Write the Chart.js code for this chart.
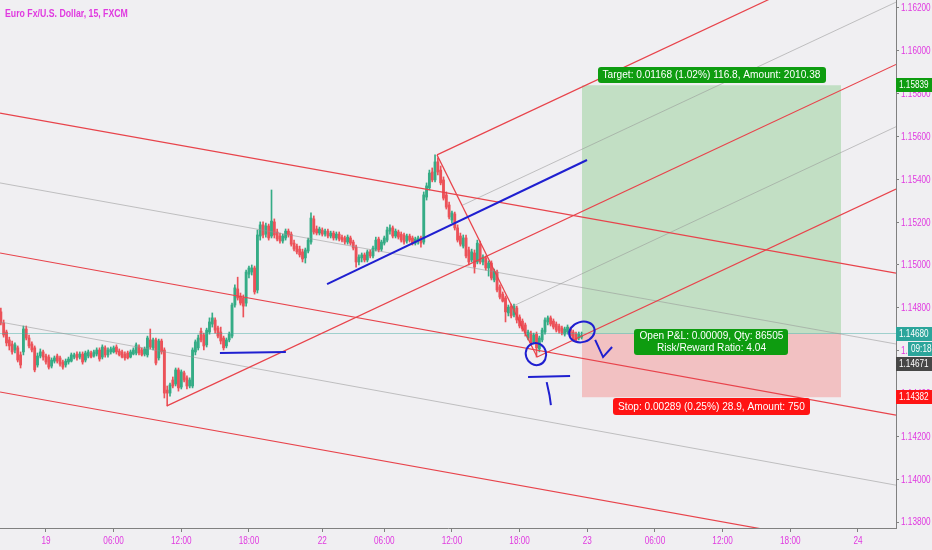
<!DOCTYPE html>
<html>
<head>
<meta charset="utf-8">
<script src="https://cdn.jsdelivr.net/npm/chart.js@4.4.0/dist/chart.umd.min.js"></script>
<style>
  html, body { margin: 0; padding: 0; background: #f0eff2; }
  #wrap { width: 932px; height: 550px; }
</style>
</head>
<body>
<div id="wrap"><canvas id="chart"></canvas></div>
<script>
const FONT = '"Liberation Sans", Arial, sans-serif';
const MAGENTA = "#e03ae0";
const BG = "#f0eff2";
const SQUEEZE = 0.78; // the screenshot text is narrow

// 15 min bars; bar 0 sits on the "19" label
const firstBar = -16;

const opens = [
  1.14781, 1.14729, 1.14687, 1.14650, 1.14631, 1.14603, 1.14613, 1.14580, 1.14594, 1.14701,
  1.14659, 1.14631, 1.14613, 1.14533, 1.14575, 1.14594, 1.14575, 1.14570, 1.14528, 1.14551,
  1.14575, 1.14566, 1.14547, 1.14533, 1.14547, 1.14551, 1.14570, 1.14584, 1.14570, 1.14584,
  1.14556, 1.14575, 1.14589, 1.14575, 1.14584, 1.14603, 1.14570, 1.14613, 1.14580, 1.14594,
  1.14594, 1.14617, 1.14598, 1.14594, 1.14584, 1.14589, 1.14570, 1.14584, 1.14589, 1.14617,
  1.14603, 1.14584, 1.14580, 1.14650, 1.14613, 1.14650, 1.14566, 1.14645, 1.14603, 1.14416,
  1.14402, 1.14463, 1.14444, 1.14510, 1.14430, 1.14496, 1.14473, 1.14435, 1.14435, 1.14594,
  1.14613, 1.14691, 1.14673, 1.14627, 1.14687, 1.14724, 1.14743, 1.14706, 1.14687, 1.14659,
  1.14622, 1.14650, 1.14668, 1.14813, 1.14888, 1.14855, 1.14846, 1.14822, 1.14957, 1.14967,
  1.14986, 1.14883, 1.15135, 1.15187, 1.15144, 1.15182, 1.15135, 1.15201, 1.15154, 1.15135,
  1.15112, 1.15126, 1.15158, 1.15144, 1.15102, 1.15088, 1.15074, 1.15061, 1.15033, 1.15065,
  1.15107, 1.15215, 1.15168, 1.15149, 1.15163, 1.15144, 1.15158, 1.15135, 1.15149, 1.15126,
  1.15144, 1.15130, 1.15126, 1.15107, 1.15126, 1.15107, 1.15083, 1.15014, 1.15033, 1.15047,
  1.15023, 1.15061, 1.15042, 1.15074, 1.15121, 1.15074, 1.15102, 1.15116, 1.15158, 1.15173,
  1.15135, 1.15154, 1.15144, 1.15140, 1.15112, 1.15135, 1.15126, 1.15102, 1.15112, 1.15126,
  1.15107, 1.15317, 1.15360, 1.15434, 1.15397, 1.15481, 1.15443, 1.15397, 1.15327, 1.15280,
  1.15210, 1.15238, 1.15173, 1.15135, 1.15088, 1.15126, 1.15070, 1.15023, 1.15056, 1.15014,
  1.15097, 1.15014, 1.15033, 1.14986, 1.15009, 1.14930, 1.14967, 1.14897, 1.14864, 1.14846,
  1.14776, 1.14808, 1.14767, 1.14799, 1.14757, 1.14738, 1.14720, 1.14659, 1.14682, 1.14641,
  1.14677, 1.14608, 1.14650, 1.14687, 1.14734, 1.14753, 1.14738, 1.14724, 1.14715, 1.14706,
  1.14677, 1.14687, 1.14701, 1.14687, 1.14677, 1.14659, 1.14663
];
const highs = [
  1.14799, 1.14743, 1.14696, 1.14663, 1.14645, 1.14636, 1.14622, 1.14594, 1.14715, 1.14715,
  1.14673, 1.14641, 1.14622, 1.14589, 1.14608, 1.14603, 1.14584, 1.14580, 1.14566, 1.14575,
  1.14584, 1.14575, 1.14556, 1.14561, 1.14570, 1.14589, 1.14589, 1.14594, 1.14594, 1.14594,
  1.14598, 1.14603, 1.14598, 1.14603, 1.14613, 1.14613, 1.14627, 1.14622, 1.14613, 1.14617,
  1.14622, 1.14627, 1.14608, 1.14603, 1.14594, 1.14598, 1.14603, 1.14613, 1.14636, 1.14627,
  1.14613, 1.14617, 1.14668, 1.14701, 1.14659, 1.14659, 1.14654, 1.14654, 1.14613, 1.14435,
  1.14449, 1.14477, 1.14519, 1.14519, 1.14510, 1.14505, 1.14482, 1.14473, 1.14613, 1.14650,
  1.14673, 1.14705, 1.14682, 1.14705, 1.14753, 1.14776, 1.14753, 1.14715, 1.14710, 1.14668,
  1.14659, 1.14687, 1.14822, 1.14907, 1.14943, 1.14869, 1.14860, 1.14976, 1.14995, 1.15000,
  1.14995, 1.15163, 1.15201, 1.15201, 1.15196, 1.15191, 1.15350, 1.15215, 1.15168, 1.15149,
  1.15144, 1.15168, 1.15168, 1.15154, 1.15116, 1.15097, 1.15088, 1.15074, 1.15079, 1.15126,
  1.15243, 1.15229, 1.15182, 1.15177, 1.15173, 1.15168, 1.15168, 1.15158, 1.15158, 1.15154,
  1.15154, 1.15140, 1.15135, 1.15140, 1.15135, 1.15116, 1.15093, 1.15047, 1.15056, 1.15056,
  1.15070, 1.15070, 1.15088, 1.15130, 1.15130, 1.15116, 1.15135, 1.15177, 1.15187, 1.15182,
  1.15168, 1.15163, 1.15154, 1.15149, 1.15144, 1.15144, 1.15135, 1.15130, 1.15135, 1.15135,
  1.15341, 1.15383, 1.15443, 1.15453, 1.15514, 1.15500, 1.15462, 1.15411, 1.15341, 1.15294,
  1.15252, 1.15247, 1.15187, 1.15149, 1.15140, 1.15140, 1.15083, 1.15074, 1.15070, 1.15116,
  1.15112, 1.15047, 1.15042, 1.15019, 1.15019, 1.14981, 1.14976, 1.14907, 1.14874, 1.14855,
  1.14813, 1.14817, 1.14817, 1.14808, 1.14767, 1.14748, 1.14729, 1.14696, 1.14691, 1.14682,
  1.14687, 1.14668, 1.14705, 1.14753, 1.14762, 1.14762, 1.14748, 1.14734, 1.14724, 1.14715,
  1.14710, 1.14720, 1.14710, 1.14696, 1.14687, 1.14687, 1.14687
];
const lows = [
  1.14720, 1.14663, 1.14622, 1.14603, 1.14584, 1.14589, 1.14547, 1.14519, 1.14580, 1.14650,
  1.14613, 1.14594, 1.14501, 1.14523, 1.14566, 1.14556, 1.14537, 1.14514, 1.14519, 1.14542,
  1.14542, 1.14528, 1.14514, 1.14523, 1.14537, 1.14547, 1.14561, 1.14556, 1.14561, 1.14537,
  1.14547, 1.14566, 1.14566, 1.14570, 1.14575, 1.14551, 1.14561, 1.14570, 1.14570, 1.14584,
  1.14589, 1.14584, 1.14575, 1.14566, 1.14556, 1.14561, 1.14566, 1.14580, 1.14580, 1.14580,
  1.14575, 1.14575, 1.14570, 1.14608, 1.14603, 1.14533, 1.14556, 1.14584, 1.14379, 1.14342,
  1.14388, 1.14426, 1.14435, 1.14411, 1.14421, 1.14454, 1.14421, 1.14426, 1.14426, 1.14580,
  1.14603, 1.14641, 1.14603, 1.14617, 1.14677, 1.14710, 1.14682, 1.14659, 1.14631, 1.14603,
  1.14613, 1.14641, 1.14659, 1.14803, 1.14836, 1.14813, 1.14757, 1.14808, 1.14939, 1.14953,
  1.14864, 1.14869, 1.15116, 1.15126, 1.15130, 1.15116, 1.15126, 1.15126, 1.15112, 1.15102,
  1.15102, 1.15116, 1.15130, 1.15088, 1.15065, 1.15051, 1.15037, 1.15014, 1.15009, 1.15056,
  1.15097, 1.15144, 1.15140, 1.15140, 1.15135, 1.15135, 1.15126, 1.15126, 1.15116, 1.15116,
  1.15112, 1.15107, 1.15097, 1.15097, 1.15093, 1.15070, 1.14990, 1.15000, 1.15014, 1.15014,
  1.15014, 1.15033, 1.15033, 1.15065, 1.15061, 1.15065, 1.15093, 1.15107, 1.15144, 1.15126,
  1.15126, 1.15121, 1.15107, 1.15097, 1.15102, 1.15107, 1.15093, 1.15093, 1.15097, 1.15083,
  1.15097, 1.15303, 1.15350, 1.15388, 1.15388, 1.15420, 1.15374, 1.15303, 1.15261, 1.15215,
  1.15196, 1.15163, 1.15107, 1.15088, 1.15079, 1.15033, 1.15000, 1.15014, 1.14962, 1.15005,
  1.15005, 1.15000, 1.14976, 1.14948, 1.14930, 1.14921, 1.14874, 1.14841, 1.14827, 1.14734,
  1.14762, 1.14753, 1.14757, 1.14729, 1.14706, 1.14691, 1.14668, 1.14650, 1.14627, 1.14631,
  1.14570, 1.14594, 1.14641, 1.14677, 1.14720, 1.14715, 1.14701, 1.14687, 1.14682, 1.14673,
  1.14668, 1.14677, 1.14659, 1.14645, 1.14641, 1.14650, 1.14654
];
const closes = [
  1.14729, 1.14673, 1.14636, 1.14622, 1.14594, 1.14627, 1.14556, 1.14533, 1.14701, 1.14659,
  1.14622, 1.14603, 1.14510, 1.14575, 1.14594, 1.14570, 1.14547, 1.14523, 1.14556, 1.14566,
  1.14551, 1.14537, 1.14523, 1.14551, 1.14561, 1.14580, 1.14580, 1.14566, 1.14584, 1.14547,
  1.14589, 1.14594, 1.14570, 1.14594, 1.14603, 1.14561, 1.14617, 1.14580, 1.14603, 1.14608,
  1.14613, 1.14594, 1.14580, 1.14570, 1.14566, 1.14566, 1.14594, 1.14603, 1.14627, 1.14589,
  1.14580, 1.14608, 1.14659, 1.14617, 1.14650, 1.14542, 1.14645, 1.14594, 1.14402, 1.14402,
  1.14440, 1.14435, 1.14510, 1.14426, 1.14501, 1.14463, 1.14435, 1.14463, 1.14603, 1.14641,
  1.14659, 1.14650, 1.14622, 1.14696, 1.14734, 1.14753, 1.14696, 1.14668, 1.14645, 1.14613,
  1.14650, 1.14677, 1.14813, 1.14893, 1.14846, 1.14822, 1.14808, 1.14967, 1.14986, 1.14986,
  1.14874, 1.15140, 1.15187, 1.15140, 1.15182, 1.15126, 1.15205, 1.15140, 1.15121, 1.15112,
  1.15135, 1.15158, 1.15140, 1.15097, 1.15074, 1.15061, 1.15047, 1.15028, 1.15070, 1.15116,
  1.15219, 1.15154, 1.15149, 1.15168, 1.15144, 1.15158, 1.15135, 1.15149, 1.15126, 1.15144,
  1.15121, 1.15116, 1.15107, 1.15130, 1.15102, 1.15079, 1.15014, 1.15037, 1.15047, 1.15023,
  1.15061, 1.15042, 1.15079, 1.15116, 1.15070, 1.15107, 1.15126, 1.15163, 1.15173, 1.15135,
  1.15158, 1.15130, 1.15116, 1.15107, 1.15135, 1.15116, 1.15102, 1.15121, 1.15126, 1.15102,
  1.15327, 1.15369, 1.15429, 1.15397, 1.15481, 1.15434, 1.15383, 1.15312, 1.15270, 1.15224,
  1.15243, 1.15173, 1.15116, 1.15097, 1.15126, 1.15042, 1.15014, 1.15061, 1.14990, 1.15102,
  1.15014, 1.15037, 1.14986, 1.15009, 1.14939, 1.14971, 1.14883, 1.14850, 1.14831, 1.14781,
  1.14803, 1.14762, 1.14808, 1.14743, 1.14715, 1.14701, 1.14682, 1.14687, 1.14636, 1.14673,
  1.14613, 1.14659, 1.14696, 1.14743, 1.14753, 1.14724, 1.14710, 1.14696, 1.14691, 1.14682,
  1.14701, 1.14710, 1.14668, 1.14654, 1.14650, 1.14677, 1.14671
];

const xTickPos = [0, 24, 48, 72, 98, 120, 144, 168, 192, 216, 240, 264, 288];
const xTickLabels = ["19", "06:00", "12:00", "18:00", "22", "06:00", "12:00", "18:00", "23", "06:00", "12:00", "18:00", "24"];
const yTicks = [1.138, 1.140, 1.142, 1.144, 1.146, 1.148, 1.150, 1.152, 1.154, 1.156, 1.158, 1.160, 1.162];

// visible window (bars / price)
const xMin = -16.3, xMax = 301.5;
const yMin = 1.13772, yMax = 1.16237;

// falling fork: price at left edge, price at right edge
const fallRed = [[1.15709, 1.14962], [1.15056, 1.14299], [1.14407, 1.13655]];
const fallGray = [[1.15383, 1.14631], [1.14734, 1.13972]];

// rising pitchfork pivots [bar, price]
const pivotA = [42.9, 1.14342];
const pivotB = [138.7, 1.15514];
const pivotC = [174.2, 1.14570];

// long position tool
const entry = 1.14680, target = 1.15839, stop = 1.14382;
const posFrom = 190.1, posTo = 282.0;
const lastPrice = 1.14671;

// hand drawn blue marks [bar, price]
const blueTrend = [[99.7, 1.14911], [191.9, 1.15490]];
const blueBase = [[61.7, 1.14589], [85.1, 1.14594]];
const blueDash = [[171.0, 1.14477], [185.9, 1.14482]];
const blueStroke = [[177.6, 1.14453], [178.6, 1.14392], [179.1, 1.14346]];
const blueTick = [[194.8, 1.14650], [197.6, 1.14570], [200.8, 1.14617]];
const blueLoops = [[173.8, 1.14584, 3.6, 0.00052], [190.1, 1.14687, 4.6, 0.00047]];

const upColor = "#35ac86";
const downColor = "#ec5259";
const redLine = "#e8434b";
const grayLine = "rgba(150,150,150,0.55)";
const blue = "#1f1fd0";

const barIdx = opens.map((_, k) => firstBar + k);
const barColors = opens.map((o, k) => closes[k] >= o ? upColor : downColor);

function seg(points, color, width, order) {
  return {
    type: "line",
    data: points.map(p => ({ x: p[0], y: p[1] })),
    borderColor: color,
    borderWidth: width,
    pointRadius: 0,
    fill: false,
    tension: 0,
    order
  };
}

// pitchfork geometry from its three pivots
const mid = [(pivotB[0] + pivotC[0]) / 2, (pivotB[1] + pivotC[1]) / 2];
const slope = (mid[1] - pivotA[1]) / (mid[0] - pivotA[0]);
const toEdge = p => [xMax, p[1] + slope * (xMax - p[0])];
const midBM = [(pivotB[0] + mid[0]) / 2, (pivotB[1] + mid[1]) / 2];
const midMC = [(mid[0] + pivotC[0]) / 2, (mid[1] + pivotC[1]) / 2];

const datasets = [];

datasets.push(seg(blueTrend, blue, 2, 0));
datasets.push(seg(blueBase, blue, 2, 0));
datasets.push(seg(blueDash, blue, 2, 0));
datasets.push(seg(blueStroke, blue, 2, 0));
datasets.push(seg(blueTick, blue, 2, 0));

fallRed.forEach(r => datasets.push(seg([[xMin, r[0]], [xMax, r[1]]], redLine, 1.2, 1)));
datasets.push(seg([pivotA, toEdge(pivotA)], redLine, 1.2, 1));
datasets.push(seg([pivotB, toEdge(pivotB)], redLine, 1.2, 1));
datasets.push(seg([pivotC, toEdge(pivotC)], redLine, 1.2, 1));
datasets.push(seg([pivotB, pivotC], redLine, 1.2, 1));

fallGray.forEach(r => datasets.push(seg([[xMin, r[0]], [xMax, r[1]]], grayLine, 1, 2)));
datasets.push(seg([midBM, toEdge(midBM)], grayLine, 1, 2));
datasets.push(seg([midMC, toEdge(midMC)], grayLine, 1, 2));
datasets.push(seg([[xMin, entry], [xMax, entry]], "rgba(60,170,160,0.45)", 1, 2));

datasets.push({
  type: "bar",
  data: barIdx.map((x, k) => ({ x, y: [opens[k], closes[k]] })),
  backgroundColor: barColors,
  barThickness: 2.2,
  minBarLength: 1,
  grouped: false,
  order: 4
});
datasets.push({
  type: "bar",
  data: barIdx.map((x, k) => ({ x, y: [lows[k], highs[k]] })),
  backgroundColor: barColors,
  barThickness: 1,
  grouped: false,
  order: 5
});

datasets.push({
  type: "line",
  data: [{ x: posFrom, y: target }, { x: posTo, y: target }],
  borderWidth: 0, borderColor: "transparent", pointRadius: 0,
  fill: { value: entry }, backgroundColor: "#c2dfc4", order: 20
});
datasets.push({
  type: "line",
  data: [{ x: posFrom, y: stop }, { x: posTo, y: stop }],
  borderWidth: 0, borderColor: "transparent", pointRadius: 0,
  fill: { value: entry }, backgroundColor: "#f2c1c2", order: 20
});

// narrow text, as in the screenshot
function sText(ctx, text, x, y, align, sx) {
  const w = ctx.measureText(text).width * sx;
  const x0 = align === "center" ? x - w / 2 : align === "right" ? x - w : x;
  ctx.save();
  ctx.translate(x0, y);
  ctx.scale(sx, 1);
  ctx.textAlign = "left";
  ctx.fillText(text, 0, 0);
  ctx.restore();
  return w;
}

function box(ctx, lines, cx, top, h, bg) {
  ctx.font = "11.5px " + FONT;
  const sx = 0.88;
  const w = Math.max(...lines.map(t => ctx.measureText(t).width)) * sx + 10;
  ctx.fillStyle = bg;
  ctx.beginPath();
  ctx.roundRect(Math.round(cx - w / 2), top, Math.round(w), h, 3);
  ctx.fill();
  ctx.fillStyle = "#ffffff";
  ctx.textBaseline = "middle";
  const lh = (h - 2) / lines.length;
  lines.forEach((t, k) => sText(ctx, t, cx, top + 1 + lh * (k + 0.5), "center", sx));
}

const decor = {
  id: "decor",
  beforeDraw(chart) {
    const c = chart.ctx;
    c.save();
    c.fillStyle = BG;
    c.fillRect(0, 0, chart.width, chart.height);
    c.restore();
  },
  afterDatasetsDraw(chart) {
    const c = chart.ctx, xs = chart.scales.x, ys = chart.scales.y;
    c.save();
    c.strokeStyle = blue;
    c.lineWidth = 2;
    blueLoops.forEach(l => {
      const cx = xs.getPixelForValue(l[0]), cy = ys.getPixelForValue(l[1]);
      const rx = xs.getPixelForValue(l[0] + l[2]) - cx;
      const ry = cy - ys.getPixelForValue(l[1] + l[3]);
      c.beginPath();
      c.ellipse(cx, cy, rx, ry, -0.3, 0, Math.PI * 2);
      c.stroke();
    });

    const cx = (xs.getPixelForValue(posFrom) + xs.getPixelForValue(posTo)) / 2;
    box(c, ["Target: 0.01168 (1.02%) 116.8, Amount: 2010.38"], cx, Math.round(ys.getPixelForValue(target)) - 18, 16, "#0e9c10");
    box(c, ["Open P&L: 0.00009, Qty: 86505", "Risk/Reward Ratio: 4.04"], cx, Math.round(ys.getPixelForValue(entry)) - 5, 26, "#0e9c10");
    box(c, ["Stop: 0.00289 (0.25%) 28.9, Amount: 750"], cx, Math.round(ys.getPixelForValue(stop)) + 1, 17, "#ff1414");
    c.restore();
  },
  afterDraw(chart) {
    const c = chart.ctx, xs = chart.scales.x, ys = chart.scales.y, area = chart.chartArea;
    c.save();
    c.fillStyle = MAGENTA;
    c.textBaseline = "middle";
    c.font = "bold 11.5px " + FONT;
    sText(c, "Euro Fx/U.S. Dollar, 15, FXCM", 5, 14, "left", 0.76);

    // axis labels
    c.font = "10.5px " + FONT;
    xTickPos.forEach((v, k) => sText(c, xTickLabels[k], xs.getPixelForValue(v), area.bottom + 13, "center", SQUEEZE));
    yTicks.forEach(v => sText(c, v.toFixed(5), area.right + 5, ys.getPixelForValue(v) + 0.5, "left", SQUEEZE));

    // price tags on the axis
    const tags = [
      { text: "1.15839", price: target, bg: "#0e9c10", left: 0 },
      { text: "1.14680", price: entry, bg: "#2ba59b", left: 0 },
      { text: "09:18", price: lastPrice, bg: "#2ba59b", left: 12 },
      { text: "1.14671", price: lastPrice, bg: "#474747", left: 0 },
      { text: "1.14382", price: stop, bg: "#ff1414", left: 0 }
    ];
    let prevBottom = -100;
    tags.forEach(t => {
      let y = Math.round(ys.getPixelForValue(t.price));
      if (y - 7 < prevBottom + 1) y = prevBottom + 8;
      prevBottom = y + 7;
      const x0 = area.right + t.left;
      c.fillStyle = t.bg;
      c.fillRect(x0, y - 7, chart.width - x0, 14);
      c.fillStyle = "#ffffff";
      sText(c, t.text, x0 + 3, y + 0.5, "left", SQUEEZE);
    });
    c.restore();
  }
};

new Chart(document.getElementById("chart"), {
  type: "bar",
  data: { datasets },
  options: {
    responsive: true,
    maintainAspectRatio: false,
    animation: false,
    layout: { padding: 0 },
    plugins: { legend: { display: false }, tooltip: { enabled: false } },
    scales: {
      x: {
        type: "linear",
        min: xMin,
        max: xMax,
        offset: false,
        afterBuildTicks: s => { s.ticks = xTickPos.map(v => ({ value: v })); },
        afterFit: s => { s.height = 22; },
        ticks: { display: false },
        grid: { offset: false, drawOnChartArea: false, tickLength: 4, color: "#808080" },
        border: { color: "#808080" }
      },
      y: {
        position: "right",
        min: yMin,
        max: yMax,
        afterBuildTicks: s => { s.ticks = yTicks.map(v => ({ value: v })); },
        afterFit: s => { s.width = 36; },
        ticks: { display: false },
        grid: { drawOnChartArea: false, tickLength: 3, color: "#808080" },
        border: { color: "#808080" }
      }
    }
  },
  plugins: [decor]
});
</script>
</body>
</html>
